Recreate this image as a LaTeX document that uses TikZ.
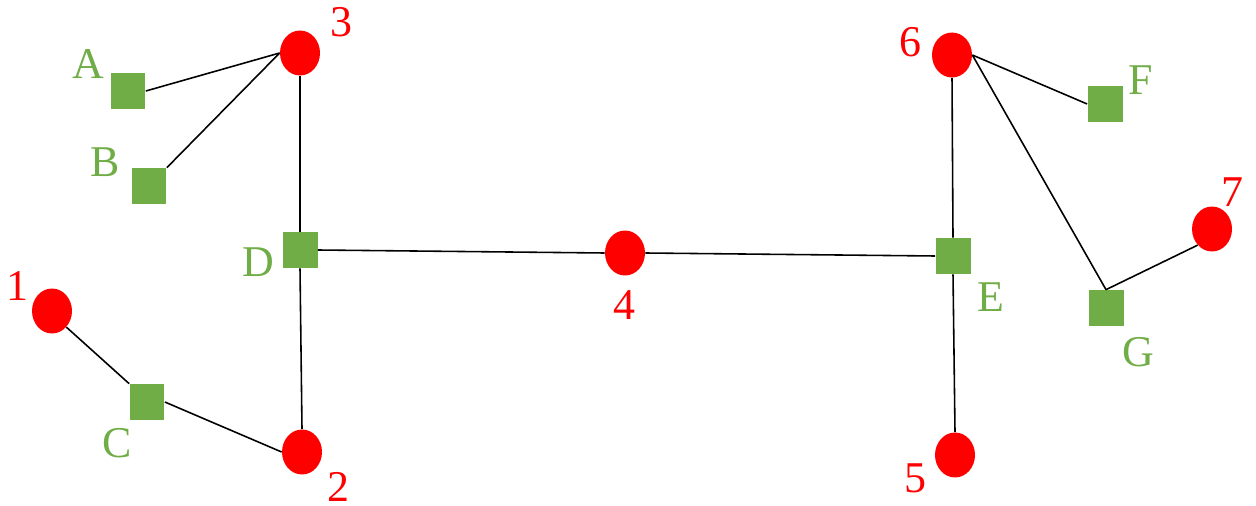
\documentclass[tikz,border=0pt]{standalone}
\usepackage{fontspec}
\setmainfont{Liberation Serif}
\usetikzlibrary{shapes.geometric}
\definecolor{vred}{HTML}{FF0000}
\definecolor{fgreen}{HTML}{70AD47}

\begin{document}
\begin{tikzpicture}[x=0.02cm, y=-0.02cm,
  var/.style={ellipse, fill=vred, draw=none, inner sep=0pt,
              minimum width=0.8cm, minimum height=0.9cm},
  fac/.style={rectangle, fill=fgreen, draw=none, inner sep=0pt,
              minimum width=0.7cm, minimum height=0.72cm},
  vlab/.style={text=vred, inner sep=0pt, font=\fontsize{25}{30}\selectfont},
  flab/.style={vlab, text=fgreen},
  edge/.style={line width=0.9pt, black}]
  \useasboundingbox (0,0) rectangle (1256,506);
  % variable nodes
  \node[var] (n1) at (52,311) {};
  \node[var] (n2) at (302,452) {};
  \node[var] (n3) at (300,53) {};
  \node[var] (n4) at (625,253) {};
  \node[var] (n5) at (955,455) {};
  \node[var] (n6) at (952,55) {};
  \node[var] (n7) at (1212,229) {};
  % factor nodes
  \node[fac] (fA) at (128,91) {};
  \node[fac] (fB) at (149,186) {};
  \node[fac] (fC) at (147,402) {};
  \node[fac] (fD) at (300,250) {};
  \node[fac] (fE) at (953,256) {};
  \node[fac] (fF) at (1105,104) {};
  \node[fac] (fG) at (1106,308) {};
  % labels
  \node[vlab] (l1) at (17,286) {1};
  \node[vlab] (l2) at (338,487) {2};
  \node[vlab] (l3) at (341,22) {3};
  \node[vlab] (l4) at (624,305) {4};
  \node[vlab] (l5) at (915,478) {5};
  \node[vlab] (l6) at (910,42) {6};
  \node[vlab] (l7) at (1232,192) {7};
  \node[flab] (lA) at (88,64) {A};
  \node[flab] (lB) at (105,162) {B};
  \node[flab] (lC) at (117,443) {C};
  \node[flab] (lD) at (258,262) {D};
  \node[flab] (lE) at (991,297) {E};
  \node[flab] (lF) at (1141,80) {F};
  \node[flab] (lG) at (1138,352) {G};
  % edges
  \draw[edge] (fA.east) -- (n3.west); \draw[edge] (fB.north east) -- (n3.west);
  \draw[edge] (n3.south) -- (fD.north); \draw[edge] (fD.south) -- (n2.north);
  \draw[edge] (n1.south east) -- (fC.north west); \draw[edge] (fC.east) -- (n2.west);
  \draw[edge] (fD.east) -- (n4.west); \draw[edge] (n4.east) -- (fE.west);
  \draw[edge] (fE.north) -- (n6.south); \draw[edge] (fE.south) -- (n5.north);
  \draw[edge] (n6.east) -- (fF.west); \draw[edge] (n6.east) -- (fG.north);
  \draw[edge] (fG.north) -- (n7.south west);
\end{tikzpicture}
\end{document}
